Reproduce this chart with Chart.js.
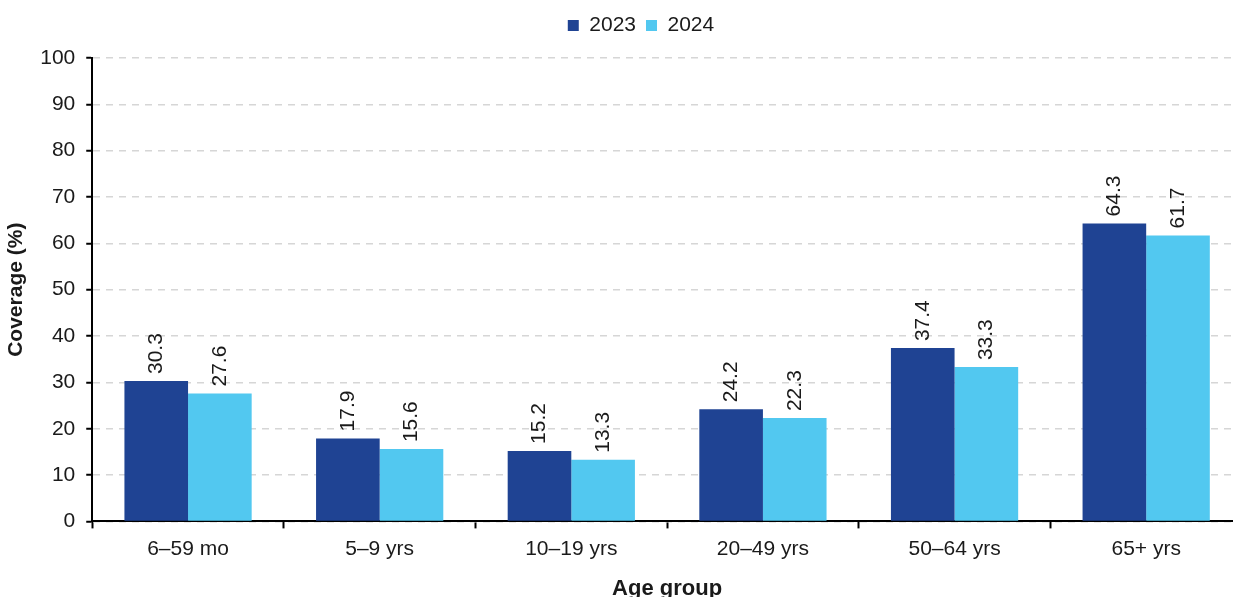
<!DOCTYPE html>
<html>
<head>
<meta charset="utf-8">
<script src="https://cdn.jsdelivr.net/npm/chart.js@4/dist/chart.umd.min.js"></script>
<style>
  html, body { margin: 0; padding: 0; background: #fff; overflow: hidden; }
  #wrap { position: relative; width: 1245px; height: 602px; }
</style>
</head>
<body>
<div id="wrap"><canvas id="coverageChart"></canvas></div>
<script>
const ageGroups = ['6–59 mo', '5–9 yrs', '10–19 yrs', '20–49 yrs', '50–64 yrs', '65+ yrs'];
const seasonLabels = ['2023', '2024'];
const coverage2023 = [30.3, 17.9, 15.2, 24.2, 37.4, 64.3];
const coverage2024 = [27.6, 15.6, 13.3, 22.3, 33.3, 61.7];
const yTicks = [0, 10, 20, 30, 40, 50, 60, 70, 80, 90, 100];

const FONT = '"Liberation Sans", Arial, sans-serif';
const TEXT = '#1a1a1a';

// writes each bar's value vertically just above it
const barValueLabels = {
  id: 'barValueLabels',
  afterDatasetsDraw(chart) {
    const { ctx } = chart;
    ctx.save();
    ctx.font = `21px ${FONT}`;
    ctx.fillStyle = TEXT;
    ctx.textAlign = 'left';
    ctx.textBaseline = 'middle';
    chart.data.datasets.forEach((ds, di) => {
      chart.getDatasetMeta(di).data.forEach((bar, i) => {
        ctx.save();
        ctx.translate(bar.x, bar.y - 7);
        ctx.rotate(-Math.PI / 2);
        ctx.fillText(ds.data[i].toFixed(1), 0, 0);
        ctx.restore();
      });
    });
    ctx.restore();
  }
};

// extra room under the legend, and nudge it a little to the right
const legendGap = {
  id: 'legendGap',
  beforeInit(chart) {
    const fit = chart.legend.fit;
    chart.legend.fit = function () {
      fit.bind(chart.legend)();
      this.height += 12;
    };
  },
  afterLayout(chart) {
    chart.legend.left += 20;
    chart.legend.right += 20;
  }
};

const ctx = document.getElementById('coverageChart').getContext('2d');
new Chart(ctx, {
  type: 'bar',
  data: {
    labels: ageGroups,
    datasets: [
      {
        label: seasonLabels[0],
        data: coverage2023,
        backgroundColor: '#1f4393',
        categoryPercentage: 0.664,
        barPercentage: 1
      },
      {
        label: seasonLabels[1],
        data: coverage2024,
        backgroundColor: '#52c8f0',
        categoryPercentage: 0.664,
        barPercentage: 1
      }
    ]
  },
  options: {
    responsive: true,
    maintainAspectRatio: false,
    animation: false,
    layout: { padding: { left: 0, right: 3, top: 5, bottom: 0 } },
    plugins: {
      legend: {
        position: 'top',
        labels: {
          color: TEXT,
          font: { family: FONT, size: 21 },
          boxWidth: 11,
          boxHeight: 11,
          padding: 10
        }
      },
      tooltip: { enabled: false }
    },
    scales: {
      x: {
        offset: true,
        grid: {
          offset: true,
          drawOnChartArea: false,
          tickLength: 7,
          tickColor: '#000',
          tickWidth: 2
        },
        border: { color: '#000', width: 2 },
        ticks: {
          color: TEXT,
          font: { family: FONT, size: 21 },
          padding: 8
        },
        title: {
          display: true,
          text: 'Age group',
          color: TEXT,
          font: { family: FONT, size: 22, weight: 'bold' },
          padding: { top: 6, bottom: 0 }
        }
      },
      y: {
        min: 0,
        max: 100,
        afterBuildTicks: (scale) => {
          scale.ticks = yTicks.map((v) => ({ value: v }));
        },
        grid: {
          color: '#d6d6d6',
          lineWidth: 1.5,
          tickLength: 6,
          tickColor: '#000',
          tickWidth: 2,
          tickBorderDash: []
        },
        border: { color: '#000', width: 2, dash: [7, 6] },
        ticks: {
          color: TEXT,
          font: { family: FONT, size: 21 },
          padding: 11
        },
        title: {
          display: true,
          text: 'Coverage (%)',
          color: TEXT,
          font: { family: FONT, size: 21, weight: 'bold' },
          padding: { top: 4, bottom: 0 }
        }
      }
    }
  },
  plugins: [barValueLabels, legendGap]
});
</script>
</body>
</html>
